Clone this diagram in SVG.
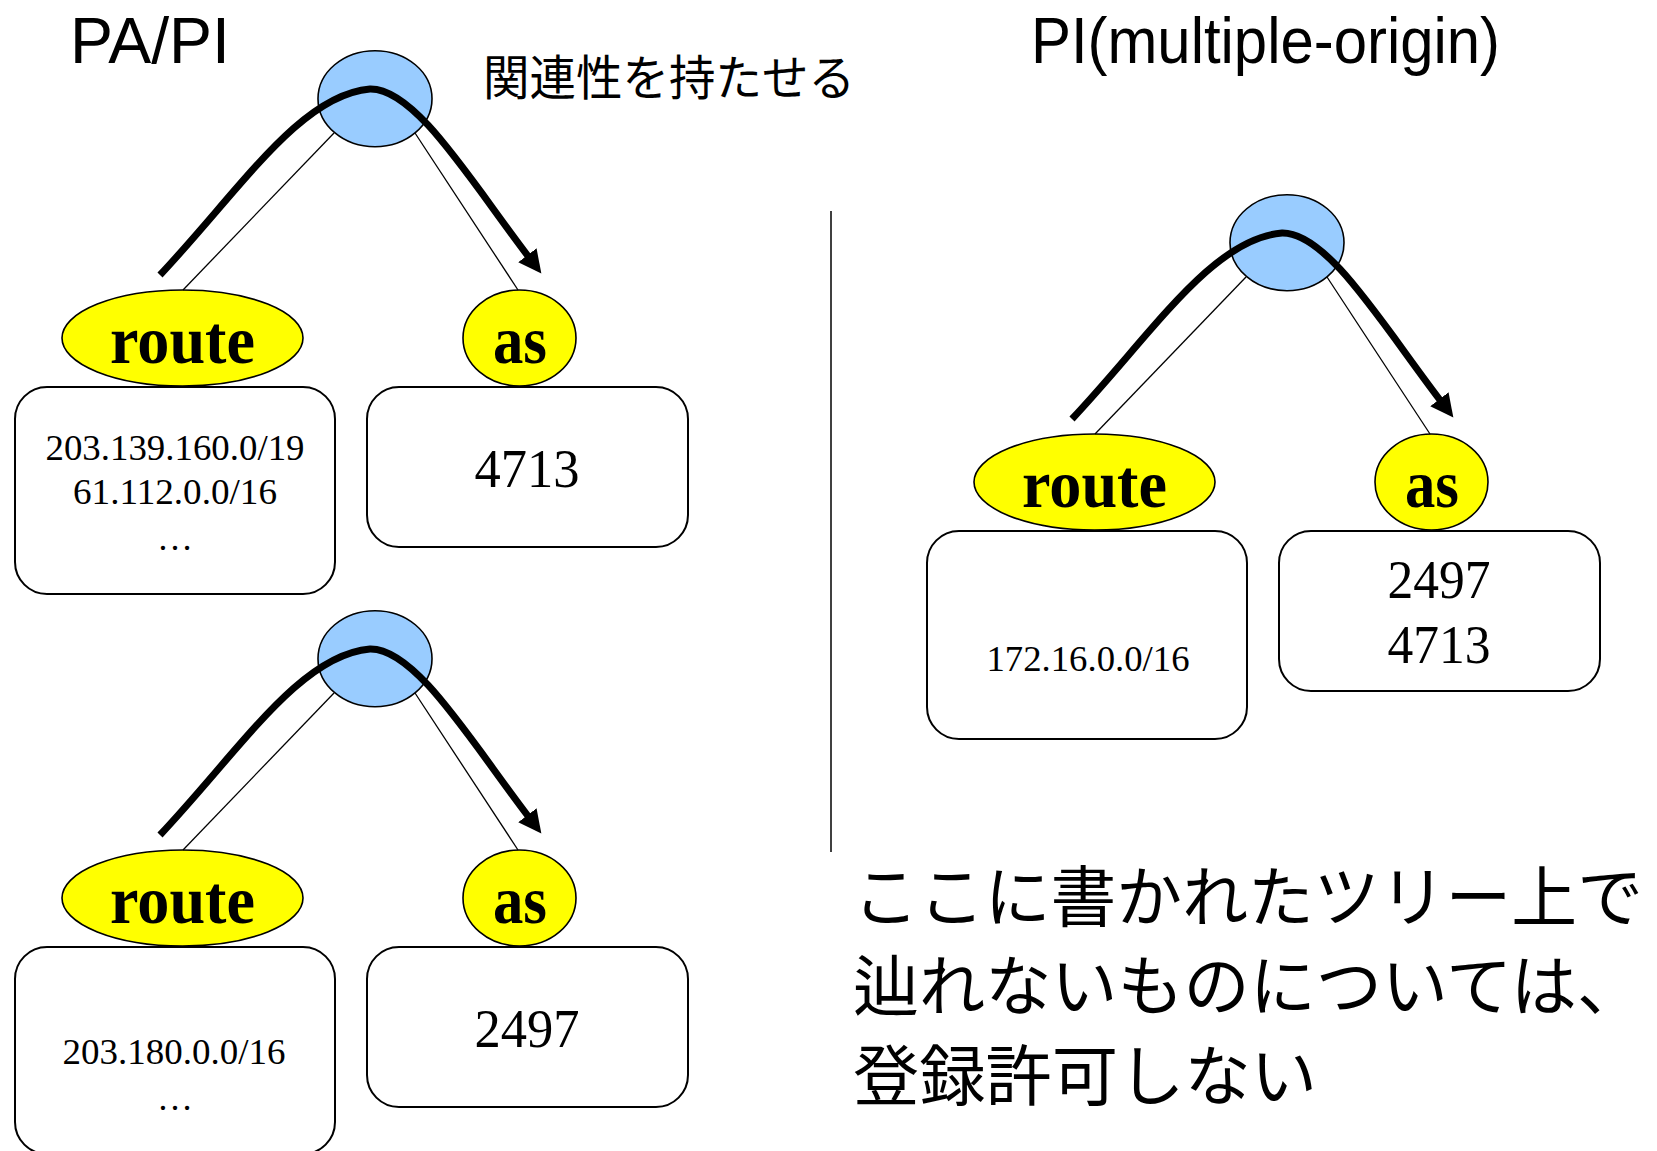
<svg xmlns="http://www.w3.org/2000/svg" width="1657" height="1151" viewBox="0 0 1657 1151">
<style>
.bg{fill:#ffffff}
.root{fill:#99CCFF;stroke:#000;stroke-width:1.6}
.attr{fill:#FFFF00;stroke:#000;stroke-width:1.6}
.box{fill:#ffffff;stroke:#000;stroke-width:2}
.edge{stroke:#000;stroke-width:1.3;fill:none}
.flow{stroke:#000;stroke-width:7;fill:none;marker-end:url(#arrow)}
.divider{stroke:#000;stroke-width:1.5}
.lbl{font-family:"Liberation Serif","Times New Roman",serif;font-weight:bold;font-size:68px;text-anchor:middle;fill:#000}
.val{font-family:"Liberation Serif","Times New Roman",serif;font-size:36px;text-anchor:middle;fill:#000}
.num{font-family:"Liberation Serif","Times New Roman",serif;font-size:54px;text-anchor:middle;fill:#000}
.title{font-family:"Liberation Sans",Arial,sans-serif;font-size:64px;fill:#000}
.jp{font-family:"Noto Sans CJK JP","Noto Sans CJK SC",sans-serif;fill:#000}
</style>
<defs>
<marker id="arrow" markerUnits="userSpaceOnUse" markerWidth="24" markerHeight="24" viewBox="0 0 24 24" refX="1" refY="12" orient="auto">
<path d="M0,0.5 L23,12 L0,23.5 Z" fill="#000"/>
</marker>
</defs>
<rect class="bg" x="0" y="0" width="1657" height="1151"/>

<g id="titles">
<text class="title" x="70" y="63" textLength="160" lengthAdjust="spacingAndGlyphs">PA/PI</text>
<text class="title" x="1031" y="63" textLength="469" lengthAdjust="spacingAndGlyphs">PI(multiple-origin)</text>
<text class="jp" x="483" y="95" font-size="48" textLength="372" lengthAdjust="spacingAndGlyphs">関連性を持たせる</text>
</g>

<line id="divider" class="divider" x1="831" y1="211" x2="831" y2="852"/>

<!-- Tree 1: top-left -->
<g id="tree1">
<g id="tree1-root"><ellipse class="root" cx="375" cy="98.7" rx="57" ry="48"/></g>
<g id="tree1-route"><ellipse class="attr" cx="182.5" cy="338" rx="120.5" ry="48"/><text class="lbl" x="182.5" y="363" textLength="145" lengthAdjust="spacingAndGlyphs">route</text></g>
<g id="tree1-as"><ellipse class="attr" cx="519.5" cy="338" rx="56.5" ry="48"/><text class="lbl" x="520" y="363" textLength="54" lengthAdjust="spacingAndGlyphs">as</text></g>
<g id="tree1-routebox"><rect class="box" x="15" y="387" width="320" height="207" rx="32" ry="32"/>
<text class="val" x="175" y="460" textLength="259" lengthAdjust="spacingAndGlyphs">203.139.160.0/19</text>
<text class="val" x="175" y="504" textLength="204" lengthAdjust="spacingAndGlyphs">61.112.0.0/16</text>
<text class="val" x="175" y="550">…</text></g>
<g id="tree1-asbox"><rect class="box" x="367" y="387" width="321" height="160" rx="32" ry="32"/>
<text class="num" x="527" y="487" textLength="105" lengthAdjust="spacingAndGlyphs">4713</text></g>
<g id="tree1-connectors">
<line class="edge" x1="334" y1="133" x2="183" y2="290"/>
<line class="edge" x1="415" y1="133" x2="518" y2="290"/>
<path class="flow" d="M160,275 C240,190 300,95 370,89 C415,88 470,180 528,256"/>
</g>
</g>

<!-- Tree 2: bottom-left -->
<g id="tree2" transform="translate(0,560)">
<g id="tree2-root"><ellipse class="root" cx="375" cy="98.7" rx="57" ry="48"/></g>
<g id="tree2-route"><ellipse class="attr" cx="182.5" cy="338" rx="120.5" ry="48"/><text class="lbl" x="182.5" y="363" textLength="145" lengthAdjust="spacingAndGlyphs">route</text></g>
<g id="tree2-as"><ellipse class="attr" cx="519.5" cy="338" rx="56.5" ry="48"/><text class="lbl" x="520" y="363" textLength="54" lengthAdjust="spacingAndGlyphs">as</text></g>
<g id="tree2-routebox"><rect class="box" x="15" y="387" width="320" height="207" rx="32" ry="32"/>
<text class="val" x="174" y="504" textLength="223" lengthAdjust="spacingAndGlyphs">203.180.0.0/16</text>
<text class="val" x="175" y="550">…</text></g>
<g id="tree2-asbox"><rect class="box" x="367" y="387" width="321" height="160" rx="32" ry="32"/>
<text class="num" x="527" y="487" textLength="105" lengthAdjust="spacingAndGlyphs">2497</text></g>
<g id="tree2-connectors">
<line class="edge" x1="334" y1="133" x2="183" y2="290"/>
<line class="edge" x1="415" y1="133" x2="518" y2="290"/>
<path class="flow" d="M160,275 C240,190 300,95 370,89 C415,88 470,180 528,256"/>
</g>
</g>

<!-- Tree 3: right (multiple-origin) -->
<g id="tree3" transform="translate(912,144)">
<g id="tree3-root"><ellipse class="root" cx="375" cy="98.7" rx="57" ry="48"/></g>
<g id="tree3-route"><ellipse class="attr" cx="182.5" cy="338" rx="120.5" ry="48"/><text class="lbl" x="182.5" y="363" textLength="145" lengthAdjust="spacingAndGlyphs">route</text></g>
<g id="tree3-as"><ellipse class="attr" cx="519.5" cy="338" rx="56.5" ry="48"/><text class="lbl" x="520" y="363" textLength="54" lengthAdjust="spacingAndGlyphs">as</text></g>
<g id="tree3-routebox"><rect class="box" x="15" y="387" width="320" height="208" rx="32" ry="32"/>
<text class="val" x="176" y="527" textLength="203" lengthAdjust="spacingAndGlyphs">172.16.0.0/16</text></g>
<g id="tree3-asbox"><rect class="box" x="367" y="387" width="321" height="160" rx="32" ry="32"/>
<text class="num" x="527" y="454" textLength="103" lengthAdjust="spacingAndGlyphs">2497</text>
<text class="num" x="527" y="519" textLength="103" lengthAdjust="spacingAndGlyphs">4713</text></g>
<g id="tree3-connectors">
<line class="edge" x1="334" y1="133" x2="183" y2="290"/>
<line class="edge" x1="415" y1="133" x2="518" y2="290"/>
<path class="flow" d="M160,275 C240,190 300,95 370,89 C415,88 470,180 528,256"/>
</g>
</g>

<g id="note" class="jp" font-size="66">
<text x="853" y="921" textLength="790" lengthAdjust="spacingAndGlyphs">ここに書かれたツリー上で</text>
<text x="853" y="1010" textLength="790" lengthAdjust="spacingAndGlyphs">辿れないものについては、</text>
<text x="853" y="1100" textLength="464" lengthAdjust="spacingAndGlyphs">登録許可しない</text>
</g>
</svg>
